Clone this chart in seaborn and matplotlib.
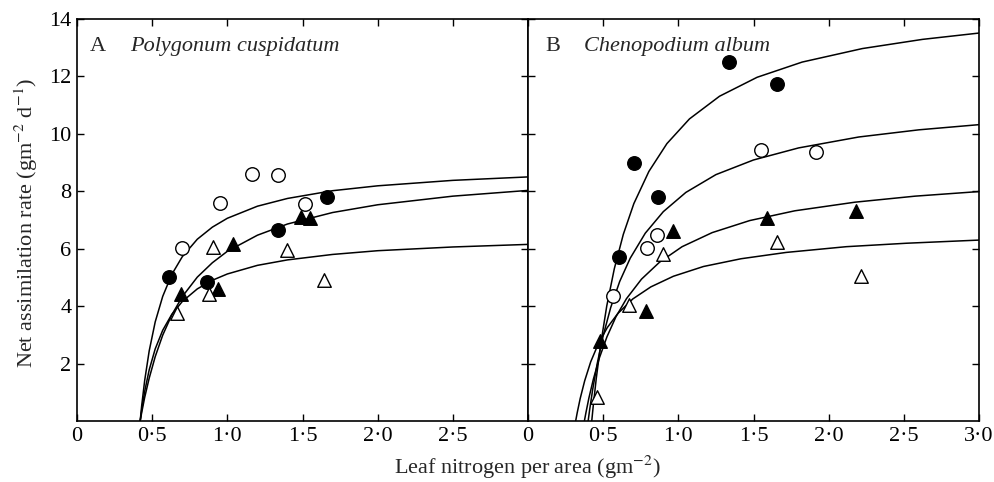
import seaborn as sns
from matplotlib import pyplot as plt
import pandas as pd
import numpy as np

sns.set_style("ticks")
plt.rcParams["font.family"] = ["Liberation Serif", "DejaVu Serif"]
plt.rcParams["mathtext.fontset"] = "stix"

# ---- panel A : Polygonum cuspidatum ----
a_open_circle_x = [0.70, 0.95, 1.165, 1.34, 1.515]
a_open_circle_y = [6.03, 7.59, 8.59, 8.57, 7.55]
a_fill_circle_x = [0.61, 0.865, 1.34, 1.66]
a_fill_circle_y = [5.02, 4.85, 6.64, 7.80]
a_fill_tri_x = [0.69, 0.94, 1.035, 1.49, 1.55]
a_fill_tri_y = [4.41, 4.61, 6.15, 7.11, 7.08]
a_open_tri_x = [0.665, 0.875, 0.905, 1.40, 1.64]
a_open_tri_y = [3.75, 4.41, 6.06, 5.95, 4.90]

# fitted curves
a_curve_x = [0.42, 0.43, 0.45, 0.48, 0.52, 0.57, 0.63, 0.70, 0.80, 0.90,
             1.00, 1.20, 1.40, 1.70, 2.00, 2.50, 3.00]
a_curve_top = [0, 0.53, 1.41, 2.44, 3.45, 4.34, 5.10, 5.72, 6.33, 6.75,
               7.06, 7.48, 7.75, 8.02, 8.19, 8.38, 8.50]
a_curve_mid = [0, 0.29, 0.82, 1.49, 2.24, 2.99, 3.69, 4.33, 5.01, 5.51,
               5.91, 6.47, 6.86, 7.26, 7.53, 7.83, 8.03]
a_curve_low = [0, 0.38, 1.03, 1.78, 2.51, 3.16, 3.71, 4.16, 4.60, 4.90,
               5.12, 5.42, 5.61, 5.80, 5.93, 6.06, 6.15]

# ---- panel B : Chenopodium album ----
b_fill_circle_x = [0.608, 0.707, 0.863, 1.337, 1.654]
b_fill_circle_y = [5.72, 8.99, 7.80, 12.50, 11.74]
b_open_circle_x = [0.563, 0.794, 0.856, 1.548, 1.916]
b_open_circle_y = [4.35, 6.04, 6.47, 9.45, 9.37]
b_fill_tri_x = [0.479, 0.783, 0.962, 1.592, 2.182]
b_fill_tri_y = [2.79, 3.84, 6.61, 7.07, 7.30]
b_open_tri_x = [0.457, 0.672, 0.90, 1.658, 2.213]
b_open_tri_y = [0.82, 4.03, 5.81, 6.24, 5.05]

b_curve1_x = [0.424, 0.434, 0.454, 0.484, 0.524, 0.574, 0.634, 0.704, 0.804,
              0.924, 1.074, 1.274, 1.524, 1.824, 2.224, 2.624, 3.0]
b_curve1_y = [0, 0.53, 1.48, 2.69, 4.01, 5.30, 6.50, 7.57, 8.69,
              9.66, 10.52, 11.31, 11.97, 12.50, 12.97, 13.29, 13.51]
b_curve2_x = [0.40, 0.41, 0.43, 0.46, 0.50, 0.55, 0.61, 0.68, 0.78,
              0.90, 1.05, 1.25, 1.50, 1.80, 2.20, 2.60, 3.0]
b_curve2_y = [0, 0.39, 1.09, 1.99, 2.97, 3.95, 4.86, 5.67, 6.54,
              7.29, 7.96, 8.58, 9.09, 9.51, 9.89, 10.14, 10.32]
b_curve3_x = [0.375, 0.385, 0.405, 0.435, 0.475, 0.525, 0.585, 0.655, 0.755,
              0.875, 1.025, 1.225, 1.475, 1.775, 2.175, 2.575, 3.0]
b_curve3_y = [0, 0.28, 0.80, 1.46, 2.20, 2.93, 3.63, 4.26, 4.94,
              5.53, 6.07, 6.56, 6.98, 7.32, 7.62, 7.83, 7.99]
b_curve4_x = [0.317, 0.327, 0.347, 0.377, 0.417, 0.467, 0.527, 0.597, 0.697,
              0.817, 0.967, 1.167, 1.417, 1.717, 2.117, 2.517, 3.0]
b_curve4_y = [0, 0.28, 0.78, 1.40, 2.06, 2.68, 3.25, 3.74, 4.25,
              4.67, 5.04, 5.38, 5.65, 5.87, 6.07, 6.19, 6.30]

x_ticks = [0, 0.5, 1.0, 1.5, 2.0, 2.5, 3.0]
x_tick_labels = ["0", "0·5", "1·0", "1·5", "2·0", "2·5", "3·0"]
y_ticks = [2, 4, 6, 8, 10, 12, 14]

fig = plt.figure(figsize=(9.94, 4.82), dpi=100)
ax_a = fig.add_axes([0.0775, 0.1266, 0.4537, 0.834])
ax_b = fig.add_axes([0.5312, 0.1266, 0.4537, 0.834])

msize = 95
fs = 16


def draw_points(ax, x, y, marker, filled):
    df = pd.DataFrame({"x": x, "y": y})
    sns.scatterplot(data=df, x="x", y="y", ax=ax, marker=marker, s=msize,
                    facecolor="black" if filled else "white",
                    edgecolor="black", linewidth=1.0, zorder=3)


def draw_curve(ax, x, y):
    df = pd.DataFrame({"x": x, "y": y})
    sns.lineplot(data=df, x="x", y="y", ax=ax, color="black", lw=1.1,
                 sort=False, estimator=None, zorder=2)


for cy in [a_curve_top, a_curve_mid, a_curve_low]:
    draw_curve(ax_a, a_curve_x, cy)
draw_points(ax_a, a_open_circle_x, a_open_circle_y, "o", False)
draw_points(ax_a, a_fill_circle_x, a_fill_circle_y, "o", True)
draw_points(ax_a, a_fill_tri_x, a_fill_tri_y, "^", True)
draw_points(ax_a, a_open_tri_x, a_open_tri_y, "^", False)

for cx, cy in [(b_curve1_x, b_curve1_y), (b_curve2_x, b_curve2_y),
               (b_curve3_x, b_curve3_y), (b_curve4_x, b_curve4_y)]:
    draw_curve(ax_b, cx, cy)
draw_points(ax_b, b_fill_circle_x, b_fill_circle_y, "o", True)
draw_points(ax_b, b_open_circle_x, b_open_circle_y, "o", False)
draw_points(ax_b, b_fill_tri_x, b_fill_tri_y, "^", True)
draw_points(ax_b, b_open_tri_x, b_open_tri_y, "^", False)

for ax in [ax_a, ax_b]:
    ax.set_xlim(0, 3.0)
    ax.set_ylim(0, 14)
    ax.set_xticks(x_ticks)
    ax.set_yticks(y_ticks)
    ax.tick_params(direction="in", length=5, width=1, top=True, right=True,
                   labelsize=fs, pad=4, colors="black")
    for sp in ax.spines.values():
        sp.set_visible(True)
        sp.set_linewidth(1.2)
        sp.set_color("black")
    ax.set_xlabel("")
    ax.set_ylabel("")

ax_a.set_xticklabels(x_tick_labels[:-1] + [""])
ax_b.set_xticklabels(x_tick_labels)
ax_a.set_yticklabels([str(v) for v in y_ticks])
ax_b.set_yticklabels([])

ax_a.text(0.087, 12.9, "A", fontsize=fs)
ax_a.text(0.353, 12.9, "Polygonum cuspidatum", fontsize=fs, style="italic")
ax_b.text(0.113, 12.9, "B", fontsize=fs)
ax_b.text(0.375, 12.9, "Chenopodium album", fontsize=fs, style="italic")

fig.text(0.026, 0.537, "Net assimilation rate (gm$^{-2}$ d$^{-1}$)",
         rotation=90, ha="center", va="center", fontsize=fs)
fig.text(0.531, 0.03, "Leaf nitrogen per area (gm$^{-2}$)",
         ha="center", va="center", fontsize=fs)

fig.savefig("out.png", dpi=100)
